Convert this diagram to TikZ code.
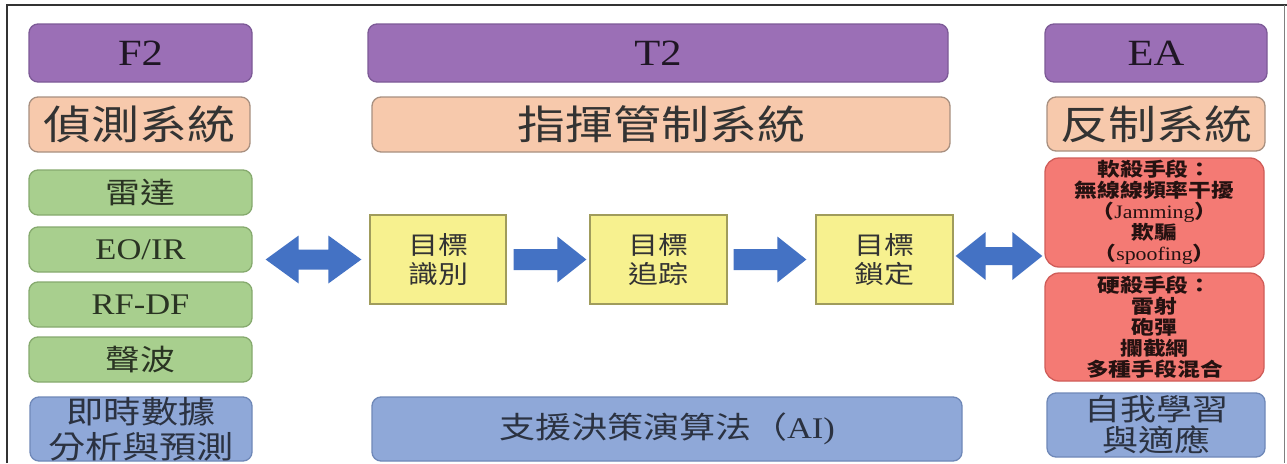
\documentclass[tikz,border=0pt]{standalone}
\usepackage{fontspec}
\setmainfont[FakeStretch=1.15]{Liberation Serif}
\newfontfamily\cjk[FakeStretch=1.2]{Noto Sans CJK TC}
\usetikzlibrary{calc}
\definecolor{purpf}{HTML}{9B6FB6}
\definecolor{purpd}{HTML}{7D5A97}
\definecolor{orf}{HTML}{F7C9AC}
\definecolor{ord}{HTML}{A89080}
\definecolor{grf}{HTML}{A8CF8E}
\definecolor{grd}{HTML}{86AA6E}
\definecolor{blf}{HTML}{8FA8D8}
\definecolor{bld}{HTML}{6F88B8}
\definecolor{yef}{HTML}{F7F18F}
\definecolor{yed}{HTML}{A09C5C}
\definecolor{ref}{HTML}{F47A74}
\definecolor{red2}{HTML}{C0504D}
\definecolor{arrc}{HTML}{4472C4}
\definecolor{txt}{HTML}{333333}
\newcommand\dblarrow[5]{%
 \fill[arrc] (#1) -- ($(#1)+(#3,-#4)$) -- ($(#1)+(#3,-#5)$) -- ($(#2)+(-#3,-#5)$) -- ($(#2)+(-#3,-#4)$) -- (#2) -- ($(#2)+(-#3,#4)$) -- ($(#2)+(-#3,#5)$) -- ($(#1)+(#3,#5)$) -- ($(#1)+(#3,#4)$) -- cycle;}
\newcommand\fatarrow[5]{%
 \fill[arrc] ($(#1)+(0,-#5)$) -- ($(#2)+(-#3,-#5)$) -- ($(#2)+(-#3,-#4)$) -- (#2) -- ($(#2)+(-#3,#4)$) -- ($(#2)+(-#3,#5)$) -- ($(#1)+(0,#5)$) -- cycle;}
\begin{document}
\begin{tikzpicture}[x=1pt,y=-1pt,
  sz/.style 2 args={minimum width=#1pt, minimum height=#2pt},
  base/.style={inner sep=0pt, line width=1.3pt, rounded corners=9pt, text=txt, align=center},
  purpbox/.style={base, fill=purpf, draw=purpd, text=black!80!purpf, font=\fontsize{37}{40}\selectfont},
  orbox/.style={base, fill=orf, draw=ord, font=\cjk\fontsize{40}{44}\selectfont},
  grbox/.style={base, fill=grf, draw=grd, text=black!75!grf},
  blbox/.style={base, fill=blf, draw=bld, text=black!70!blf},
  yebox/.style={base, rounded corners=0pt, fill=yef, draw=yed, text=black!80, font=\cjk\fontsize{25}{29}\selectfont},
  rebox/.style={base, rounded corners=14pt, fill=ref, draw=red2!70!ref, text=black!85!ref, font=\cjk\bfseries\fontsize{19}{21}\selectfont}
]
\useasboundingbox (0,0) rectangle (1287,463);
\fill[white] (0,0) rectangle (1287,463);
\draw[line width=2pt, color=txt] (7,463) -- (7,5) -- (1287,5);
\draw[line width=1pt, color=black!50] (1284,5) -- (1284,463);

% left column
\node[purpbox, sz={223}{58}] (f2) at (140.5,53) {F2};
\node[orbox, sz={221}{55}] (det) at (139.5,124.5) {偵測系統};
\node[grbox, sz={223}{45}, font=\cjk\fontsize{29}{32}\selectfont] (radar) at (140.5,192.5) {雷達};
\node[grbox, sz={223}{45}, font=\fontsize{30}{32}\selectfont] (eoir) at (140.5,249.5) {EO/IR};
\node[grbox, sz={223}{45}, font=\fontsize{30}{32}\selectfont] (rfdf) at (140.5,304.5) {RF-DF};
\node[grbox, sz={223}{45}, font=\cjk\fontsize{29}{32}\selectfont] (sonic) at (140.5,359.5) {聲波};
\node[blbox, sz={222}{64}, font=\cjk\fontsize{31}{35}\selectfont] (rt) at (141,429) {即時數據\\分析與預測};

% middle column
\node[purpbox, sz={580}{58}] (t2) at (658,53) {T2};
\node[orbox, sz={578}{55}] (c2) at (661,124.5) {指揮管制系統};
\node[yebox, sz={136}{89}] (id) at (438,259.5) {目標\\識別};
\node[yebox, sz={137}{89}] (trk) at (658.5,259.5) {目標\\追踪};
\node[yebox, sz={137}{89}] (lock) at (884.5,259.5) {目標\\鎖定};
\node[blbox, sz={590}{64}, font=\cjk\fontsize{30}{32}\selectfont] (ai) at (667,429) {支援決策演算法（{\rmfamily AI)}};

% right column
\node[purpbox, sz={222}{58}] (ea) at (1156,53) {EA};
\node[orbox, sz={218}{54}] (cm) at (1156,124) {反制系統};
\node[rebox, sz={219}{109}] (soft) at (1154.5,212.5) {軟殺手段：\\無線線頻率干擾\\（{\rmfamily\mdseries Jamming}）\\欺騙\\（{\rmfamily\mdseries spoofing}）};
\node[rebox, sz={219}{108}] (hard) at (1154.5,327) {硬殺手段：\\雷射\\砲彈\\攔截網\\多種手段混合};
\node[blbox, sz={218}{64}, font=\cjk\fontsize{30}{31}\selectfont] (self) at (1156,425) {自我學習\\與適應};

% connectors
\coordinate (la) at ($(eoir.east |- id.west)+(13,0)$);
\coordinate (lb) at ($(id.west)+(-8,0)$);
\dblarrow{la}{lb}{33}{24}{10}
\coordinate (a1s) at ($(id.east)+(7,0)$);
\coordinate (a1e) at ($(trk.west)+(-3,0)$);
\fatarrow{a1s}{a1e}{29}{23}{10.5}
\coordinate (a2s) at ($(trk.east)+(6,0)$);
\coordinate (a2e) at ($(lock.west)+(-9,0)$);
\fatarrow{a2s}{a2e}{29}{23}{10.5}
\coordinate (ra) at ($(lock.east)+(2,-3.5)$);
\coordinate (rb) at ($(soft.west |- ra)+(-2,0)$);
\dblarrow{ra}{rb}{30}{24}{9}
\end{tikzpicture}
\end{document}
